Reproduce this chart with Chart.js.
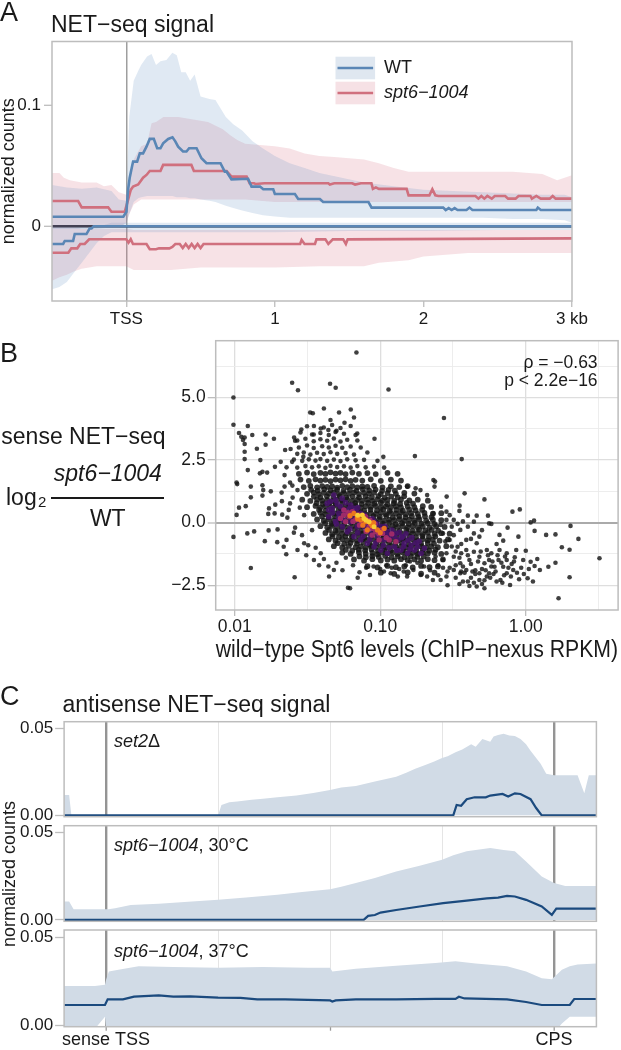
<!DOCTYPE html>
<html>
<head>
<meta charset="utf-8">
<script src="https://cdn.jsdelivr.net/npm/chart.js@4.4.1/dist/chart.umd.min.js"></script>
<style>
  body { margin: 0; width: 621px; height: 1050px; position: relative; background: #fff; overflow: hidden;
         font-family: "Liberation Sans", Arial, Helvetica, sans-serif; color: #1a1a1a; }
  canvas { position: absolute; left: 0; }
  .t { position: absolute; line-height: 1; white-space: nowrap; }
</style>
</head>
<body>
<canvas id="chartA" width="621" height="335" style="top:0"></canvas>
<canvas id="chartB" width="621" height="340" style="top:330px"></canvas>
<canvas id="chartC1" width="621" height="113" style="top:708px"></canvas>
<canvas id="chartC2" width="621" height="105" style="top:821px"></canvas>
<canvas id="chartC3" width="621" height="124" style="top:926px"></canvas>

<div class="t" style="left:0;top:-1.5px;font-size:27px">A</div>
<div class="t" style="left:51px;top:12.7px;font-size:23px">NET−seq signal</div>
<div class="t" style="left:0;top:339.8px;font-size:27px">B</div>
<div class="t" style="left:1.3px;top:425.3px;font-size:23px">sense NET−seq</div>
<div class="t" style="left:6px;top:485.5px;font-size:23px">log</div>
<div class="t" style="left:38px;top:494px;font-size:15px">2</div>
<div class="t" style="left:51.4px;width:112.8px;text-align:center;top:462.2px;font-size:23px;font-style:italic">spt6−1004</div>
<div style="position:absolute;left:51.4px;top:497px;width:112.8px;height:1.5px;background:#1a1a1a"></div>
<div class="t" style="left:51.4px;width:112.8px;text-align:center;top:507px;font-size:23px">WT</div>
<div class="t" style="left:0;top:682.5px;font-size:27px">C</div>
<div class="t" style="left:62.5px;top:692.7px;font-size:23px">antisense NET−seq signal</div>
<div class="t" style="left:114px;top:732px;font-size:18px"><i>set2</i>Δ</div>
<div class="t" style="left:114px;top:836.3px;font-size:18px"><i>spt6−1004</i>, 30°C</div>
<div class="t" style="left:114px;top:941.7px;font-size:18px"><i>spt6−1004</i>, 37°C</div>
<div class="t" style="left:9px;top:874px;font-size:18px;transform:translate(-50%,-50%) rotate(-90deg)">normalized counts</div>

<script>
// ---------- panel A: sense / antisense NET-seq metagene ----------
const aXTicks = [0, 1, 2, 3];
const aXLabels = ['TSS', '1', '2', '3 kb'];
const aYTicks = [0, 0.1];
const aYLabels = ['0', '0.1'];
const aLegendLabels = ['WT', 'spt6−1004'];

const wtSenseLine = [[-0.5,0.0079],[-0.02,0.0079],[0.001,0.012],[0.012,0.030],[0.023,0.040],[0.04,0.050],[0.046,0.0533],[0.073,0.0533],
  [0.091,0.0601],[0.113,0.0601],[0.136,0.0656],[0.158,0.0720],[0.185,0.0720],[0.208,0.0643],[0.23,0.0643],[0.248,0.0684],[0.282,0.0720],
  [0.311,0.0733],[0.33,0.070],[0.349,0.0656],[0.382,0.0616],[0.405,0.0616],[0.423,0.0643],[0.473,0.0643],[0.506,0.0561],[0.54,0.0520],
  [0.634,0.0520],[0.663,0.045],[0.675,0.045],[0.708,0.0387],[0.82,0.0392],[0.843,0.0327],[0.90,0.0327],[0.922,0.0305],[0.989,0.0305],
  [1.0,0.0266],[1.135,0.0266],[1.157,0.0225],[1.303,0.0225],[1.325,0.0200],[1.63,0.0200],[1.651,0.0154],[2.133,0.0154],[2.15,0.0134],
  [2.17,0.0150],[2.19,0.0134],[2.21,0.0150],[2.23,0.0134],[2.29,0.0134],[2.31,0.0154],[2.33,0.0134],[2.76,0.0134],[2.77,0.0154],
  [2.79,0.0134],[3.0,0.0134]];
const spt6SenseLine = [[-0.5,0.0208],[-0.324,0.0208],[-0.30,0.0156],[-0.122,0.0156],[-0.10,0.0120],[-0.01,0.0120],[0.012,0.0217],
  [0.03,0.030],[0.046,0.0327],[0.08,0.0344],[0.113,0.040],[0.136,0.0423],[0.158,0.0456],[0.23,0.0456],[0.248,0.0506],[0.438,0.0506],
  [0.455,0.0456],[0.675,0.0456],[0.708,0.0409],[0.81,0.0409],[0.83,0.0354],[0.86,0.0354],[0.87,0.0349],[0.93,0.0354],[1.36,0.0354],
  [1.37,0.0344],[1.40,0.0354],[1.52,0.0354],[1.54,0.0344],[1.58,0.0354],[1.65,0.0354],[1.66,0.0308],[1.68,0.0320],[1.70,0.0308],
  [1.887,0.0308],[1.90,0.0255],[2.04,0.0255],[2.06,0.0305],[2.08,0.0255],[2.10,0.0250],[2.35,0.0250],[2.37,0.0228],[2.39,0.0250],
  [2.41,0.0228],[2.43,0.0250],[2.46,0.0228],[2.48,0.0250],[2.55,0.0250],[2.57,0.0228],[2.62,0.0228],[2.64,0.0250],[2.72,0.0250],
  [2.73,0.0228],[2.76,0.0250],[2.79,0.0228],[2.85,0.0228],[2.87,0.0250],[2.89,0.0228],[3.0,0.0228]];
const wtAntiLine = [[-0.5,-0.0146],[-0.425,-0.0146],[-0.414,-0.0121],[-0.358,-0.0121],[-0.347,-0.0064],[-0.268,-0.0064],
  [-0.246,-0.0017],[-0.234,-0.0017],[-0.22,0],[3.0,0]];
const spt6AntiLine = [[-0.5,-0.0218],[-0.39,-0.0218],[-0.37,-0.0182],[-0.33,-0.0182],[-0.31,-0.0146],[-0.28,-0.0146],[-0.25,-0.0107],
  [0.0,-0.0107],[0.015,-0.0135],[0.03,-0.0107],[0.045,-0.0146],[0.136,-0.0146],[0.158,-0.0189],[0.20,-0.0189],[0.22,-0.0182],
  [0.29,-0.0182],[0.31,-0.0170],[0.33,-0.0146],[0.36,-0.0146],[0.38,-0.0180],[0.40,-0.0146],[0.42,-0.0180],[0.44,-0.0146],
  [0.46,-0.0180],[0.48,-0.0146],[0.50,-0.0180],[0.52,-0.0146],[1.17,-0.0146],[1.18,-0.0113],[1.20,-0.0146],[1.27,-0.0146],
  [1.28,-0.0108],[1.34,-0.0108],[1.36,-0.0146],[1.39,-0.0108],[1.46,-0.0108],[1.478,-0.0146],[1.49,-0.0108],[3.0,-0.0100]];

const wtSenseX = [-0.5,-0.45,-0.4,-0.3,-0.2,-0.1,-0.05,0,0.02,0.05,0.08,0.1,0.14,0.17,0.2,0.23,0.27,0.31,0.34,0.37,0.4,0.43,0.46,
  0.5,0.56,0.6,0.67,0.72,0.78,0.85,0.92,1.0,1.1,1.2,1.3,1.45,1.6,1.8,2.0,2.2,2.4,2.6,2.8,2.95,3.0];
const wtSenseHi = [0.034,0.033,0.032,0.031,0.032,0.029,0.022,0.021,0.090,0.120,0.128,0.133,0.140,0.142,0.133,0.136,0.137,0.143,
  0.141,0.127,0.127,0.120,0.125,0.107,0.105,0.104,0.090,0.084,0.079,0.070,0.064,0.058,0.052,0.048,0.044,0.040,0.036,0.033,0.030,
  0.029,0.028,0.027,0.026,0.026,0.024];
const wtSenseLo = [-0.002,-0.002,-0.002,-0.002,-0.002,-0.001,0.0,0.002,0.010,0.020,0.023,0.024,0.025,0.025,0.025,0.025,0.025,0.025,
  0.024,0.024,0.024,0.023,0.023,0.022,0.021,0.020,0.017,0.015,0.013,0.011,0.009,0.008,0.007,0.007,0.007,0.007,0.007,0.007,0.007,
  0.007,0.007,0.006,0.006,0.005,0.003];
const spt6SenseX = [-0.5,-0.45,-0.42,-0.38,-0.3,-0.2,-0.15,-0.1,-0.05,0,0.02,0.05,0.1,0.14,0.17,0.2,0.25,0.35,0.45,0.55,0.65,0.7,
  0.75,0.8,0.9,1.0,1.1,1.2,1.3,1.4,1.5,1.6,1.7,1.8,1.9,2.0,2.2,2.4,2.6,2.8,2.9,3.0];
const spt6SenseHi = [0.044,0.044,0.040,0.038,0.036,0.036,0.033,0.034,0.028,0.026,0.040,0.055,0.066,0.068,0.085,0.086,0.090,0.090,
  0.088,0.086,0.080,0.075,0.071,0.068,0.067,0.066,0.064,0.060,0.058,0.057,0.056,0.055,0.052,0.048,0.045,0.045,0.045,0.045,0.045,
  0.043,0.038,0.042];
const spt6SenseLo = [-0.001,-0.001,-0.001,-0.001,-0.001,-0.001,-0.001,-0.001,-0.001,0.003,0.010,0.018,0.022,0.022,0.022,0.022,
  0.022,0.022,0.022,0.022,0.022,0.022,0.022,0.022,0.021,0.020,0.020,0.020,0.020,0.020,0.020,0.020,0.020,0.020,0.020,0.020,0.020,
  0.020,0.020,0.020,0.020,0.020];
const wtAntiX = [-0.5,-0.45,-0.4,-0.35,-0.3,-0.25,-0.2,-0.15,-0.1,0,0.5,1.0,1.5,2.0,2.5,3.0];
const wtAntiHi = [0.001,0.001,0.001,0.001,0.001,0.001,0.001,0.001,0.003,0.003,0.003,0.003,0.003,0.003,0.003,0.003];
const wtAntiLo = [-0.052,-0.050,-0.046,-0.038,-0.030,-0.022,-0.014,-0.008,-0.005,-0.005,-0.005,-0.005,-0.004,-0.004,-0.003,-0.003];
const spt6AntiX = [-0.5,-0.45,-0.4,-0.35,-0.3,-0.2,-0.1,0,0.05,0.1,0.3,0.5,0.8,1.0,1.3,1.6,1.7,1.9,2.0,2.3,2.6,3.0];
const spt6AntiHi = [-0.001,-0.001,-0.001,-0.001,-0.002,-0.002,-0.002,-0.002,-0.003,-0.003,-0.003,-0.003,-0.003,-0.003,-0.003,
  -0.003,-0.003,-0.003,-0.003,-0.003,-0.003,-0.003];
const spt6AntiLo = [-0.045,-0.042,-0.040,-0.037,-0.035,-0.033,-0.033,-0.033,-0.036,-0.036,-0.036,-0.034,-0.034,-0.034,-0.033,
  -0.033,-0.030,-0.028,-0.025,-0.022,-0.022,-0.022];

// ---------- panel B: scatter ----------
const bXTicks = [0.01, 0.0316, 0.1, 0.316, 1, 3.16];
const bXLabels = ['0.01', '', '0.10', '', '1.00', ''];
const bYTicks = [-2.5, -1.25, 0, 1.25, 2.5, 3.75, 5, 6.25];
const bYLabels = ['−2.5', '', '0.0', '', '2.5', '', '5.0', ''];
const bStats = ['ρ = −0.63', 'p < 2.2e−16'];

const bSparse = [
  [0.0686,6.80],[0.0248,5.59],[0.0272,5.29],[0.0452,5.55],[0.0494,5.39],[0.114,5.32],[0.0098,5.00],[0.0098,3.91],[0.274,4.18],
  [0.0123,3.86],[0.0107,3.58],[0.0111,3.43],[0.0117,3.40],[0.0114,3.30],[0.0132,3.50],[0.0117,3.14],[0.0117,2.83],[0.0117,2.54],
  [0.0163,3.52],[0.0186,3.35],[0.0142,2.95],[0.0163,3.11],[0.0150,2.50],[0.0123,2.10],[0.0103,1.60],[0.0104,1.54],[0.0129,1.44],
  [0.0129,1.01],[0.0119,0.66],[0.0107,0.60],[0.0103,0.31],[0.0098,-0.57],[0.0122,-0.43],[0.0136,-0.35],[0.0129,-1.81],[0.0171,-0.31],
  [0.0161,-0.74],[0.0196,-0.78],[0.0217,-0.96],[0.0226,-1.26],[0.0258,-2.18],[0.0197,-0.27],[0.0149,1.97],[0.0155,2.03],[0.0167,2.00],
  [0.0155,1.49],[0.0155,1.08],[0.0157,1.30],[0.0177,1.25],[0.0172,0.57],[0.0170,0.35],[0.0188,0.37],[0.0211,0.86],[0.0212,0.32],
  [0.0190,0.72],[0.0207,2.43],[0.0189,2.23],[0.0227,2.21],[0.0248,2.43],[0.0242,2.94],[0.0222,2.90],[0.0256,3.40],[0.0287,3.72],
  [0.0249,1.48],[0.0220,1.44],[0.0240,0.77],[0.0235,0.51],
  [0.0330,4.40],[0.0344,4.37],[0.0410,4.56],[0.0627,4.52],[0.0521,4.40],[0.0455,4.10],[0.0568,3.99],[0.0660,4.20],[0.0695,3.56],
  [0.0913,3.35],[0.105,2.63],[0.173,2.66],[0.363,2.54],[0.0350,3.86],[0.0390,3.76],[0.0440,3.70],[0.0500,3.67],[0.0340,3.52],
  [0.0296,2.63],[0.0260,3.27],[0.153,1.44],[0.175,1.37],[0.189,1.30],[0.232,1.70],[0.236,1.44],[0.238,1.64],[0.38,1.17],[0.21,1.10],
  [0.286,1.04],[0.262,0.64],
  [0.232,0.37],[0.285,0.44],[0.351,0.68],[0.350,0.47],[0.40,0.28],[0.46,0.28],[0.52,0.93],[0.55,0.28],[0.58,-0.05],[0.81,0.44],
  [0.91,0.53],[1.08,0.01],[1.14,0.08],[1.15,-0.33],[1.38,-0.49],[1.60,-0.47],[2.03,-0.13],[2.30,-0.65],[3.21,-1.42],[1.77,-0.98],
  [2.00,-1.08],[2.00,-2.18],[1.68,-3.02],[1.60,-1.60],[1.43,-1.76],[1.25,-1.89],[1.15,-1.73],[1.03,-2.22],[0.90,-2.26],[0.82,-1.89],
  [0.74,-1.22],[0.70,-0.72],[0.75,-0.20],[0.89,-0.56],[1.00,-1.12],[0.86,-1.09],[0.66,-0.49],[0.63,-0.85],[0.56,-0.03],[0.48,-0.56],
  [0.44,-0.43],[0.39,-0.69],[0.84,-1.38],[0.65,-1.49],[0.78,-2.49],[0.67,-2.29],[0.56,-2.02],[0.48,-2.02],[0.52,-2.62],[0.46,-2.55],
  [0.41,-2.53],[0.37,-2.35],[0.355,-2.02],[0.32,-1.89],[0.285,-2.15],[0.26,-2.29],[0.23,-2.29],[0.21,-2.15],[0.19,-2.09],[0.169,-1.89],
  [0.153,-2.15],[0.145,-1.95],[0.132,-2.15],[0.118,-2.02],[0.106,-1.95],[0.085,-2.09],[0.072,-1.98],[0.062,-2.62],[0.060,-2.60],
  [0.0445,-2.15],[0.048,-1.89],[0.035,-1.49],[0.039,-1.22],[0.027,-1.09],[0.030,-0.82],[0.0255,-0.40],[0.0227,-0.69],
  [0.44,-1.16],[0.41,-1.49],[0.48,-1.36],[0.52,-1.62],[0.56,-1.49],[0.61,-1.76],[0.70,-1.76],[0.74,-2.02],[0.54,-2.15],[0.48,-2.29],
  [0.39,-1.89],[0.355,-1.62],[0.32,-1.36],[0.285,-1.22],[0.27,-1.49],[0.30,-0.69],[0.34,-0.96],[0.36,-1.22],[0.39,-1.09],[0.46,-0.82],
  [0.54,-1.09],[0.58,-1.22],[0.66,-1.09],[0.74,-1.49],[0.80,-1.65],[0.96,-1.49],[1.08,-1.56],[0.27,-0.43],[0.31,-0.16],[0.355,-0.29],
  [0.40,-0.16],[0.44,0.04],[0.285,0.11],[0.26,-0.09],[0.32,0.11],
  [0.25,-1.70],[0.22,-1.90],[0.20,-1.75],[0.18,-1.60],[0.30,-1.80],[0.33,-2.20],[0.38,-2.00],[0.42,-2.20],[0.45,-1.90],[0.50,-1.85],
  [0.60,-2.05],[0.63,-2.35],[0.71,-2.10],[0.58,-1.75],[0.52,-2.30],[0.44,-2.40],[0.35,-2.45],[0.29,-2.50],
  [0.31,-0.95],[0.33,-1.15],[0.35,-1.40],[0.37,-1.75],[0.40,-1.30],[0.42,-1.65],[0.43,-1.95],[0.47,-1.55],[0.49,-1.15],[0.50,-2.45],
  [0.53,-1.90],[0.55,-1.30],[0.57,-2.20],[0.59,-1.55],[0.62,-1.95],[0.64,-1.30],[0.68,-1.60],[0.69,-2.40],[0.72,-1.35],[0.76,-1.80],
  [0.79,-2.15],[0.83,-1.55],[0.87,-2.00],[0.93,-1.80],[0.97,-2.05],[1.05,-1.85],[1.12,-2.35],[1.20,-1.45],[0.45,-2.05],[0.40,-2.35],
  [0.36,-1.95],[0.33,-1.70],[0.29,-1.95],[0.27,-1.80],[0.25,-2.10],[0.24,-1.35],[0.28,-0.75],[0.32,-0.50],[0.36,-0.85],[0.42,-0.65],
  [0.50,-0.30],[0.37,0.05],[0.30,0.30],[0.34,-0.05],
  [0.022,1.90],[0.024,1.60],[0.021,1.20],[0.025,1.00],[0.023,0.20],[0.026,-0.20],[0.028,0.60],[0.030,0.30],[0.027,1.30],[0.029,-0.50],
  [0.032,-0.90],[0.034,-0.30],[0.031,-1.30],[0.036,-1.00],[0.038,-1.70],[0.041,-1.45],[0.044,-1.75],[0.050,-1.60],[0.055,-1.90],
  [0.058,-1.40],[0.065,-1.70],[0.070,-2.20],[0.080,-1.80],[0.090,-1.75],[0.100,-1.85],[0.110,-1.70],[0.120,-1.80],[0.135,-1.85],
  [0.150,-1.70],[0.160,-1.55],
  [0.0314,3.85],[0.0409,3.80],[0.0467,3.90],[0.0533,3.78],[0.0626,3.86],
  [0.0283,3.60],[0.0349,3.52],[0.0388,3.58],[0.0443,3.50],[0.0493,3.62],[0.0563,3.55],[0.0677,3.50],
  [0.0269,3.28],[0.0306,3.35],[0.0349,3.25],[0.0388,3.33],[0.0432,3.27],[0.0480,3.36],[0.0533,3.24],[0.0593,3.31],[0.0696,3.28],
  [0.0276,3.00],[0.0314,3.08],[0.0349,2.98],[0.0399,3.05],[0.0443,3.00],[0.0493,3.07],[0.0548,2.99],[0.0626,3.04],[0.0734,3.00],
  [0.0269,2.75],[0.0298,2.80],[0.0331,2.72],[0.0368,2.79],[0.0409,2.74],[0.0455,2.81],[0.0506,2.75],[0.0578,2.78],[0.0660,2.72],[0.0816,2.80],
  [0.0255,2.52],[0.0291,2.47],[0.0323,2.53],[0.0359,2.48],[0.0388,2.54],[0.0432,2.47],[0.0480,2.52],[0.0533,2.46],[0.0593,2.53],
  [0.0677,2.49],[0.0774,2.51],[0.0957,2.47],
  [0.0269,2.20],[0.0306,2.26],[0.0340,2.21],[0.0378,2.25],[0.0420,2.19],[0.0455,2.27],[0.0506,2.22],[0.0563,2.25],[0.0626,2.20],
  [0.0696,2.26],[0.0794,2.21],[0.0907,2.24],[0.1064,2.20]];

// dense band around the regression trend
const bCore = [
  [0.0276,1.95],[0.0314,2.00],[0.0349,1.94],[0.0388,1.99],[0.0420,1.95],[0.0455,2.01],[0.0493,1.96],[0.0533,1.99],[0.0578,1.94],
  [0.0643,2.00],[0.0714,1.95],[0.0816,1.98],[0.0931,1.94],[0.1122,1.99],[0.1316,1.95],
  [0.0283,1.72],[0.0323,1.67],[0.0359,1.73],[0.0388,1.68],[0.0420,1.71],[0.0455,1.66],[0.0493,1.72],[0.0533,1.69],[0.0578,1.73],
  [0.0626,1.67],[0.0677,1.71],[0.0753,1.68],[0.0860,1.73],[0.1009,1.67],[0.1183,1.72],[0.1388,1.68],
  [0.0298,1.42],[0.0331,1.47],[0.0368,1.41],[0.0399,1.46],[0.0432,1.43],[0.0467,1.45],[0.0506,1.40],[0.0548,1.47],[0.0593,1.42],
  [0.0643,1.46],[0.0696,1.41],[0.0753,1.45],[0.0816,1.43],[0.0907,1.47],[0.1036,1.41],[0.1183,1.45],[0.1351,1.42],[0.1543,1.46],
  [0.0335,1.31],[0.0372,1.28],[0.0412,1.33],[0.0456,1.29],[0.0505,1.32],[0.0559,1.27],[0.0619,1.31],[0.0685,1.28],[0.0758,1.33],
  [0.0839,1.29],[0.0929,1.32],[0.103,1.27],[0.114,1.31],[0.126,1.28],
  [0.0314,1.15],[0.0349,1.20],[0.0378,1.14],[0.0409,1.19],[0.0443,1.16],[0.0480,1.21],[0.0519,1.14],[0.0563,1.18],[0.0609,1.15],
  [0.0660,1.20],[0.0714,1.14],[0.0774,1.19],[0.0838,1.16],[0.0907,1.20],[0.1009,1.14],[0.1122,1.18],[0.1281,1.15],[0.1463,1.19],[0.1716,1.16],
  [0.0350,1.04],[0.0388,1.01],[0.0430,1.05],[0.0476,1.02],[0.0527,1.06],[0.0583,1.00],[0.0646,1.04],[0.0715,1.01],[0.0792,1.05],
  [0.0877,1.02],[0.0971,1.06],[0.1075,1.00],[0.119,1.04],[0.132,1.01],[0.146,1.05],
  [0.0291,0.92],[0.0331,0.87],[0.0368,0.93],[0.0399,0.88],[0.0432,0.91],[0.0467,0.86],[0.0506,0.92],[0.0548,0.89],[0.0593,0.93],
  [0.0643,0.87],[0.0696,0.91],[0.0753,0.88],[0.0816,0.92],[0.0883,0.87],[0.0957,0.93],[0.1036,0.88],[0.1122,0.91],[0.1248,0.87],
  [0.1388,0.92],[0.1585,0.89],[0.1810,0.92],[0.2123,0.88],
  [0.0365,0.78],[0.0404,0.75],[0.0447,0.79],[0.0495,0.76],[0.0548,0.80],[0.0607,0.74],[0.0672,0.78],[0.0744,0.75],[0.0824,0.79],
  [0.0912,0.76],[0.101,0.80],[0.112,0.74],[0.124,0.78],[0.137,0.75],[0.152,0.79],[0.168,0.76],
  [0.0314,0.62],[0.0359,0.67],[0.0388,0.61],[0.0420,0.66],[0.0455,0.63],[0.0493,0.68],[0.0533,0.61],[0.0578,0.65],[0.0626,0.62],
  [0.0677,0.67],[0.0734,0.60],[0.0794,0.66],[0.0860,0.63],[0.0931,0.67],[0.1009,0.61],[0.1092,0.65],[0.1183,0.62],[0.1281,0.66],
  [0.1388,0.61],[0.1543,0.65],[0.1716,0.62],[0.1960,0.66],[0.2239,0.63],
  [0.0380,0.51],[0.0421,0.48],[0.0466,0.52],[0.0516,0.49],[0.0571,0.53],[0.0632,0.47],[0.0700,0.51],[0.0775,0.48],[0.0858,0.52],
  [0.0950,0.49],[0.105,0.53],[0.116,0.47],[0.129,0.51],[0.143,0.48],[0.158,0.52],[0.175,0.49],[0.194,0.51],
  [0.0349,0.35],[0.0388,0.40],[0.0420,0.34],[0.0455,0.39],[0.0493,0.36],[0.0533,0.40],[0.0578,0.33],[0.0626,0.38],[0.0677,0.35],
  [0.0734,0.40],[0.0794,0.34],[0.0860,0.38],[0.0931,0.35],[0.1009,0.40],[0.1092,0.34],[0.1183,0.39],[0.1281,0.36],[0.1388,0.40],
  [0.1503,0.34],[0.1628,0.38],[0.1810,0.35],[0.2013,0.39],[0.2299,0.36],[0.2626,0.38],
  [0.0398,0.25],[0.0441,0.22],[0.0488,0.26],[0.0540,0.23],[0.0598,0.27],[0.0662,0.21],[0.0733,0.25],[0.0811,0.22],[0.0898,0.26],
  [0.0994,0.23],[0.110,0.27],[0.122,0.21],[0.135,0.25],[0.149,0.22],[0.165,0.26],[0.183,0.23],[0.203,0.25],[0.225,0.22],
  [0.0368,0.13],[0.0409,0.08],[0.0443,0.14],[0.0480,0.09],[0.0519,0.12],[0.0563,0.07],[0.0609,0.13],[0.0660,0.10],[0.0714,0.14],
  [0.0774,0.08],[0.0838,0.12],[0.0907,0.09],[0.0982,0.14],[0.1064,0.08],[0.1152,0.12],[0.1248,0.10],[0.1351,0.14],[0.1463,0.08],
  [0.1585,0.12],[0.1716,0.09],[0.1859,0.13],[0.2067,0.08],[0.2299,0.12],[0.2626,0.10],
  [0.0418,-0.02],[0.0463,-0.05],[0.0512,-0.01],[0.0567,-0.04],[0.0628,0.00],[0.0695,-0.06],[0.0769,-0.02],[0.0851,-0.05],
  [0.0942,-0.01],[0.104,-0.04],[0.115,0.00],[0.128,-0.06],[0.141,-0.02],[0.157,-0.05],[0.173,-0.01],[0.192,-0.04],[0.212,-0.02],[0.235,-0.05],
  [0.0388,-0.14],[0.0432,-0.19],[0.0467,-0.13],[0.0506,-0.18],[0.0548,-0.15],[0.0593,-0.20],[0.0643,-0.13],[0.0696,-0.17],
  [0.0753,-0.14],[0.0816,-0.19],[0.0883,-0.13],[0.0957,-0.18],[0.1036,-0.15],[0.1122,-0.19],[0.1215,-0.13],[0.1316,-0.17],
  [0.1425,-0.14],[0.1543,-0.19],[0.1671,-0.13],[0.1810,-0.18],[0.1960,-0.15],[0.2180,-0.19],[0.2424,-0.14],[0.2769,-0.17],
  [0.0445,-0.29],[0.0492,-0.32],[0.0545,-0.28],[0.0603,-0.31],[0.0668,-0.27],[0.0739,-0.33],[0.0818,-0.29],[0.0906,-0.32],
  [0.100,-0.28],[0.111,-0.31],[0.123,-0.27],[0.136,-0.33],[0.151,-0.29],[0.167,-0.32],[0.185,-0.28],[0.204,-0.31],[0.226,-0.29],[0.250,-0.32],
  [0.0420,-0.41],[0.0467,-0.46],[0.0506,-0.40],[0.0548,-0.45],[0.0593,-0.42],[0.0643,-0.47],[0.0696,-0.40],[0.0753,-0.44],
  [0.0816,-0.41],[0.0883,-0.46],[0.0957,-0.40],[0.1036,-0.45],[0.1122,-0.42],[0.1215,-0.46],[0.1316,-0.41],[0.1425,-0.45],
  [0.1543,-0.40],[0.1671,-0.44],[0.1810,-0.41],[0.1960,-0.46],[0.2123,-0.40],[0.2361,-0.45],[0.2626,-0.42],[0.2998,-0.44],
  [0.0470,-0.55],[0.0520,-0.58],[0.0576,-0.54],[0.0638,-0.57],[0.0706,-0.53],[0.0782,-0.59],[0.0866,-0.55],[0.0958,-0.58],
  [0.106,-0.54],[0.117,-0.57],[0.130,-0.53],[0.144,-0.59],[0.159,-0.55],[0.176,-0.58],[0.195,-0.54],[0.216,-0.57],[0.239,-0.55],
  [0.0443,-0.67],[0.0493,-0.72],[0.0548,-0.66],[0.0593,-0.71],[0.0643,-0.68],[0.0696,-0.73],[0.0753,-0.66],[0.0816,-0.70],
  [0.0883,-0.67],[0.0957,-0.72],[0.1036,-0.66],[0.1122,-0.71],[0.1215,-0.68],[0.1316,-0.72],[0.1425,-0.66],[0.1543,-0.70],
  [0.1671,-0.67],[0.1810,-0.72],[0.1960,-0.66],[0.2123,-0.71],[0.2299,-0.68],[0.2557,-0.72],[0.2920,-0.67],
  [0.0510,-0.82],[0.0565,-0.85],[0.0625,-0.81],[0.0692,-0.84],[0.0766,-0.80],[0.0848,-0.86],[0.0939,-0.82],[0.104,-0.85],
  [0.115,-0.81],[0.127,-0.84],[0.141,-0.80],[0.156,-0.86],[0.173,-0.82],[0.191,-0.85],[0.212,-0.81],[0.234,-0.84],
  [0.0480,-0.94],[0.0548,-0.99],[0.0609,-0.93],[0.0677,-0.98],[0.0734,-0.95],[0.0794,-1.00],[0.0860,-0.93],[0.0931,-0.97],
  [0.1009,-0.94],[0.1092,-0.99],[0.1183,-0.93],[0.1281,-0.98],[0.1388,-0.95],[0.1503,-0.99],[0.1628,-0.93],[0.1763,-0.97],
  [0.1909,-0.94],[0.2067,-0.99],[0.2239,-0.95],[0.2490,-0.98],[0.2843,-0.94],
  [0.0580,-1.09],[0.0642,-1.12],[0.0711,-1.08],[0.0787,-1.11],[0.0871,-1.07],[0.0964,-1.13],[0.107,-1.09],[0.118,-1.12],
  [0.131,-1.08],[0.145,-1.11],[0.160,-1.07],[0.177,-1.13],[0.196,-1.09],[0.217,-1.12],[0.240,-1.08],
  [0.0548,-1.20],[0.0626,-1.25],[0.0714,-1.19],[0.0794,-1.24],[0.0883,-1.21],[0.0957,-1.26],[0.1036,-1.19],[0.1122,-1.23],
  [0.1215,-1.20],[0.1316,-1.25],[0.1425,-1.19],[0.1543,-1.24],[0.1671,-1.21],[0.1810,-1.25],[0.1960,-1.19],[0.2123,-1.23],
  [0.2361,-1.20],[0.2626,-1.25],
  [0.0720,-1.35],[0.0797,-1.38],[0.0882,-1.34],[0.0976,-1.37],[0.108,-1.33],[0.120,-1.39],[0.132,-1.35],[0.147,-1.38],
  [0.162,-1.34],[0.180,-1.37],[0.199,-1.35],
  [0.0660,-1.47],[0.0774,-1.52],[0.0883,-1.46],[0.1009,-1.51],[0.1122,-1.48],[0.1248,-1.52],[0.1388,-1.46],[0.1543,-1.50],
  [0.1716,-1.47],[0.1909,-1.52],[0.2123,-1.46],[0.2361,-1.50],[0.2696,-1.47],
  [0.0816,-1.74],[0.0957,-1.79],[0.1122,-1.73],[0.1281,-1.78],[0.1463,-1.75],[0.1671,-1.79],[0.1909,-1.73],[0.2180,-1.78],[0.2490,-1.75],
  [0.1009,-2.00],[0.1248,-2.05],[0.1543,-1.99],[0.1909,-2.04],[0.2361,-2.00]];

const bPurple = [[0.0432,0.77],[0.0467,0.57],[0.0493,0.90],[0.0533,0.64],[0.0578,0.37],[0.0626,0.70],[0.0443,0.24],[0.0493,0.04],
  [0.0548,-0.16],[0.0593,-0.36],[0.0660,-0.56],[0.0734,-0.69],[0.0816,-0.82],[0.0907,-0.96],[0.101,-1.09],[0.112,-1.22],[0.125,-0.96],
  [0.139,-1.09],[0.154,-1.22],[0.172,-1.09],[0.191,-1.22],[0.132,-0.69],[0.146,-0.82],[0.163,-0.89],[0.118,-0.56],[0.106,-0.69],
  [0.0774,-0.16],[0.0860,-0.43],[0.0957,-0.56],[0.0696,-0.16],[0.0626,0.04],[0.0519,0.37],[0.0660,0.57],[0.0734,0.37],[0.0816,0.11],
  [0.0907,0.04],[0.101,-0.16],[0.112,-0.36],[0.128,-0.43],[0.1425,-0.56],[0.181,-0.96],[0.201,-1.02],[0.0443,0.51],[0.0480,1.10],[0.0548,0.97],
  [0.0455,0.85],[0.0506,0.75],[0.0578,0.80],[0.0470,0.40],[0.0520,0.20],[0.0560,0.50],[0.0610,0.55],[0.0680,0.45],[0.0500,-0.05],
  [0.0560,0.10],[0.0620,-0.25],[0.0700,-0.40],[0.0760,-0.55],[0.0850,-0.65],[0.0930,-0.80],[0.1050,-0.90],[0.1150,-1.00],[0.1300,-1.10],
  [0.1450,-0.95],[0.1600,-1.05],[0.1750,-0.80],[0.1550,-0.70],[0.1400,-0.60],[0.1250,-0.55],[0.1100,-0.45],[0.1000,-0.30],[0.0900,-0.20],
  [0.0800,-0.05],[0.0720,0.05],[0.0650,0.20],[0.1200,-0.30],[0.1350,-0.40],[0.1500,-0.45],[0.1650,-0.60],[0.1850,-0.75],[0.0880,0.15],
  [0.0780,0.30],[0.0700,0.60],[0.0950,-0.05],[0.1080,-0.15]];
const bMagenta = [[0.0563,0.51],[0.0609,0.24],[0.0677,0.11],[0.0753,-0.03],[0.0838,-0.16],[0.0931,-0.36],[0.1036,-0.43],[0.1152,-0.69],
  [0.1281,-0.76],[0.0643,0.44],[0.0714,0.31],[0.0794,0.24],[0.0883,-0.23],[0.0982,-0.69],[0.0578,0.04],[0.0533,0.17],
  [0.0600,0.40],[0.0650,0.05],[0.0720,-0.10],[0.0800,-0.35],[0.0880,-0.50],[0.0980,-0.45],[0.1100,-0.60],[0.1200,-0.45],[0.0850,0.10],
  [0.0920,-0.05],[0.1030,-0.28],[0.0560,0.30]];
const bOrange = [[0.0660,0.37],[0.0734,0.11],[0.0794,0.04],[0.0860,-0.03],[0.0957,-0.29],[0.1064,-0.23],[0.0696,0.24],[0.0816,-0.29],
  [0.0620,0.28],[0.0700,0.15],[0.0760,-0.10],[0.0880,-0.12],[0.1000,-0.40],[0.0900,0.00]];
const bYellow = [[0.0774,0.17],[0.0838,0.04],[0.0753,0.31],[0.0907,-0.16],[0.0700,0.30],[0.0800,0.10]];

// ---------- panel C: antisense metagenes (TSS = 0, CPS = 4) ----------
const cXTicks = [0, 1, 2, 3, 4];
const cXLabels = ['sense TSS', '', '', '', 'CPS'];
const cYTicks = [0, 0.05];
const cYLabels = ['0.00', '0.05'];

const set2X = [-0.375,-0.33,-0.31,1.0,1.03,1.1,1.17,1.3,1.4,1.53,1.7,1.85,2.0,2.1,2.23,2.4,2.5,2.59,2.68,2.76,2.85,2.93,3.0,3.05,
  3.12,3.18,3.26,3.3,3.36,3.43,3.46,3.5,3.55,3.6,3.65,3.7,3.75,3.79,3.88,3.93,4.0,4.21,4.27,4.31,4.378];
const set2Hi = [0.0117,0.0117,0,0,0.006,0.0075,0.008,0.009,0.0095,0.0104,0.0115,0.0128,0.0146,0.016,0.0169,0.0195,0.021,0.0222,
  0.0245,0.0269,0.029,0.031,0.0331,0.034,0.0364,0.038,0.041,0.0395,0.044,0.0425,0.0455,0.0464,0.047,0.046,0.0458,0.044,0.041,
  0.0373,0.0297,0.024,0.0231,0.0231,0.0127,0.0231,0.0231];
const set2Line = [[-0.375,0],[3.1,0],[3.13,0.006],[3.17,0.0055],[3.22,0.0093],[3.29,0.0104],[3.39,0.0104],[3.43,0.0114],[3.54,0.0123],
  [3.59,0.0108],[3.65,0.0127],[3.7,0.0123],[3.79,0.0093],[3.84,0.0042],[3.89,0],[4.378,0]];

const t30X = [-0.375,-0.33,-0.29,0.02,0.08,0.22,0.47,0.7,1.0,1.25,1.53,1.75,2.0,2.1,2.23,2.4,2.59,2.8,3.0,3.1,3.22,3.3,3.43,3.55,
  3.65,3.75,3.89,4.0,4.1,4.378];
const t30Hi = [0.0105,0.0105,0.0061,0.0061,0.0067,0.0086,0.0092,0.0102,0.0115,0.0128,0.0144,0.016,0.0176,0.019,0.0211,0.024,0.0278,
  0.031,0.0345,0.037,0.0393,0.040,0.0412,0.040,0.0393,0.0335,0.0249,0.0211,0.0195,0.0195];
const t30Line = [[-0.375,0],[2.3,0],[2.34,0.0023],[2.4,0.0028],[2.45,0.0042],[2.59,0.0057],[2.8,0.0077],[3.01,0.0096],[3.22,0.0111],
  [3.4,0.0123],[3.5,0.0128],[3.58,0.0138],[3.65,0.0134],[3.75,0.0115],[3.89,0.0077],[3.98,0.0029],[4.02,0.0065],[4.378,0.0065]];

const t37X = [-0.375,-0.1,-0.01,0.0,0.025,0.11,0.29,0.6,1.0,1.4,1.8,2.0,2.02,2.23,2.59,2.94,3.12,3.3,3.58,3.75,3.89,3.98,4.03,4.07,
  4.14,4.21,4.378];
const t37Hi = [0.0223,0.0223,0.0230,0.0258,0.0305,0.0315,0.0334,0.0330,0.0326,0.0330,0.0326,0.0326,0.0305,0.0320,0.0338,0.0353,
  0.0363,0.0350,0.0334,0.0305,0.0267,0.0261,0.0290,0.0315,0.0335,0.0344,0.0350];
const t37Lo = [-0.002,-0.002,0.0048,-0.002,-0.002,-0.002,-0.002,-0.002,-0.002,-0.002,-0.002,-0.002,-0.002,-0.002,-0.002,-0.002,
  -0.002,-0.002,-0.002,-0.002,-0.002,-0.002,-0.002,0.001,0.0048,0.0048,0.0048];
const t37Line = [[-0.375,0.0115],[-0.01,0.0115],[0.014,0.0147],[0.15,0.0147],[0.25,0.0162],[0.47,0.017],[0.6,0.0162],[0.75,0.0164],
  [1.0,0.0157],[1.2,0.0155],[1.35,0.0147],[1.6,0.0147],[2.0,0.0141],[2.02,0.0135],[2.05,0.0141],[2.23,0.0147],[2.59,0.0147],
  [2.94,0.0150],[3.12,0.0150],[3.15,0.0162],[3.2,0.0152],[3.58,0.0147],[3.75,0.0132],[3.89,0.0115],[4.14,0.0115],[4.18,0.0149],
  [4.378,0.0149]];

// ---------- helpers ----------
Chart.defaults.font.family = '"Liberation Sans", Arial, Helvetica, sans-serif';
Chart.defaults.color = '#1a1a1a';

const FONT = '"Liberation Sans", Arial, Helvetica, sans-serif';
const wtColor = '#5a86b5', spt6Color = '#d0707e';
const wtBand = 'rgba(100,145,195,0.2)', spt6Band = 'rgba(214,112,132,0.2)';
const cBand = '#d1dbe6', cLine = '#1b4a7e';

const pts = a => a.map(p => ({x: p[0], y: p[1]}));
const band = (xs, ys) => xs.map((x, i) => ({x, y: ys[i]}));
const fixTicks = vals => s => { s.ticks = vals.map(v => ({value: v})); };
const fixSize = (w, h) => s => {
  if (w != null) s.width = w;
  if (h != null) s.height = h;
  s.paddingLeft = s.paddingRight = s.paddingTop = s.paddingBottom = 0;
};
const lineDs = (data, color, width) => ({data, borderColor: color, borderWidth: width, pointRadius: 0, fill: false, order: 1});
const loDs = data => ({data, borderWidth: 0, borderColor: 'rgba(0,0,0,0)', pointRadius: 0, fill: false, order: 2});
const hiDs = (data, color, target) => ({data, borderWidth: 0, borderColor: 'rgba(0,0,0,0)', backgroundColor: color,
  pointRadius: 0, fill: target, order: 2});

const base = {
  responsive: false, animation: false, devicePixelRatio: 1, events: [],
  elements: {line: {tension: 0}, point: {radius: 0, hoverRadius: 0}},
};

const frame = {
  id: 'frame',
  afterDraw(chart, args, opts) {
    const {ctx, chartArea: a} = chart;
    ctx.save();
    ctx.strokeStyle = opts.color || '#bdbdbd';
    ctx.lineWidth = opts.width || 1.5;
    ctx.strokeRect(a.left, a.top, a.right - a.left, a.bottom - a.top);
    ctx.restore();
  }
};

const legendA = {
  id: 'legendA',
  afterDraw(chart) {
    const {ctx, chartArea: a} = chart;
    const boxes = ['#dfe7f0', '#f6e1e5'];
    const lines = [wtColor, spt6Color];
    ctx.save();
    aLegendLabels.forEach((label, i) => {
      const x = a.left + 283.5, y = a.top + 15.2 + i * 25;
      ctx.fillStyle = boxes[i];
      ctx.fillRect(x, y, 39.6, 22.6);
      ctx.strokeStyle = lines[i];
      ctx.lineWidth = 2.5;
      ctx.beginPath(); ctx.moveTo(x + 2, y + 11.3); ctx.lineTo(x + 37.6, y + 11.3); ctx.stroke();
      ctx.fillStyle = '#1a1a1a';
      ctx.font = (i === 1 ? 'italic ' : '') + '18px ' + FONT;
      ctx.textBaseline = 'middle';
      ctx.fillText(label, x + 48.5, y + 11.6);
    });
    ctx.restore();
  }
};

const statsB = {
  id: 'statsB',
  afterDraw(chart) {
    const {ctx, chartArea: a} = chart;
    ctx.save();
    ctx.fillStyle = '#1a1a1a';
    ctx.font = '17.5px ' + FONT;
    ctx.textAlign = 'right';
    ctx.textBaseline = 'alphabetic';
    ctx.fillText(bStats[0], a.right - 20.5, a.top + 26.8);
    ctx.fillText(bStats[1], a.right - 20.5, a.top + 45.3);
    ctx.restore();
  }
};

// ---------- chart A ----------
new Chart(document.getElementById('chartA'), {
  type: 'line',
  data: {datasets: [
    lineDs(pts(wtSenseLine), wtColor, 2.6),
    lineDs(pts(spt6SenseLine), spt6Color, 2.6),
    lineDs(pts(wtAntiLine), wtColor, 2.6),
    lineDs(pts(spt6AntiLine), spt6Color, 2.6),
    loDs(band(wtSenseX, wtSenseLo)), hiDs(band(wtSenseX, wtSenseHi), wtBand, '-1'),
    loDs(band(spt6SenseX, spt6SenseLo)), hiDs(band(spt6SenseX, spt6SenseHi), spt6Band, '-1'),
    loDs(band(wtAntiX, wtAntiLo)), hiDs(band(wtAntiX, wtAntiHi), wtBand, '-1'),
    loDs(band(spt6AntiX, spt6AntiLo)), hiDs(band(spt6AntiX, spt6AntiHi), spt6Band, '-1'),
  ]},
  options: {
    ...base,
    layout: {padding: {left: 0, right: 49, top: 41.5, bottom: 0}},
    plugins: {legend: {display: false}, tooltip: {enabled: false}, frame: {color: '#bdbdbd'}},
    scales: {
      x: {type: 'linear', min: -0.5, max: 3, z: 1, border: {display: false},
        afterBuildTicks: fixTicks(aXTicks), afterFit: fixSize(null, 34),
        grid: {color: c => (c.tick && c.tick.value === 0) ? 'rgba(0,0,0,0.38)' : 'rgba(0,0,0,0)', lineWidth: 1.5,
               tickColor: '#bdbdbd', tickWidth: 1.3, tickLength: 6},
        ticks: {callback: (v, i) => aXLabels[i], font: {size: 17, lineHeight: 1}, padding: 3.5, maxRotation: 0, autoSkip: false}},
      y: {min: -0.0616, max: 0.1523, z: 1, border: {display: false},
        afterBuildTicks: fixTicks(aYTicks), afterFit: fixSize(52, null),
        grid: {color: c => (c.tick && c.tick.value === 0) ? '#000' : 'rgba(0,0,0,0)', lineWidth: 2.6,
               tickColor: '#bdbdbd', tickWidth: 1.3, tickLength: 8},
        ticks: {callback: (v, i) => aYLabels[i], font: {size: 17, lineHeight: 1}, padding: 3, autoSkip: false},
        title: {display: true, text: 'normalized counts', font: {size: 18, lineHeight: 1}, padding: 0}}
    }
  },
  plugins: [frame, legendA]
});

// ---------- chart B ----------
const dots = (arr, color, radius, order) => ({data: pts(arr), backgroundColor: color, borderWidth: 0, pointRadius: radius,
  pointHoverRadius: 0, order});
new Chart(document.getElementById('chartB'), {
  type: 'scatter',
  data: {datasets: [
    dots(bSparse, 'rgba(22,22,22,0.82)', 2.3, 6),
    dots(bCore, 'rgba(22,22,22,0.85)', 2.9, 5),
    dots(bPurple, 'rgba(72,20,108,0.85)', 2.8, 4),
    dots(bMagenta, 'rgba(168,45,108,0.9)', 2.7, 3),
    dots(bOrange, 'rgba(240,122,28,0.95)', 2.6, 2),
    dots(bYellow, 'rgba(249,204,52,1)', 2.5, 1),
  ]},
  options: {
    ...base,
    layout: {padding: {left: 0, right: 1.7, top: 10.7, bottom: 0}},
    plugins: {legend: {display: false}, tooltip: {enabled: false}, frame: {color: '#bdbdbd'}},
    scales: {
      x: {type: 'logarithmic', min: 0.0074, max: 4.31, border: {display: false},
        afterBuildTicks: fixTicks(bXTicks), afterFit: fixSize(null, 60),
        grid: {color: c => c.index % 2 === 0 ? '#dedede' : '#ebebeb', lineWidth: c => c.index % 2 === 0 ? 1.3 : 0.9,
               tickColor: c => c.index % 2 === 0 ? '#bdbdbd' : 'rgba(0,0,0,0)', tickWidth: 1.3, tickLength: 6},
        ticks: {callback: (v, i) => bXLabels[i], font: {size: 17.5, lineHeight: 1}, padding: 2, maxRotation: 0, autoSkip: false},
        title: {display: true, text: 'wild−type Spt6 levels (ChIP−nexus RPKM)', align: 'end',
                font: {size: 23, lineHeight: 1}, padding: {top: 0, bottom: 8}}},
      y: {min: -3.49, max: 7.27, border: {display: false},
        afterBuildTicks: fixTicks(bYTicks), afterFit: fixSize(215.7, null),
        grid: {color: c => c.tick && c.tick.value === 0 ? '#aaaaaa' : (c.index % 2 === 0 ? '#dedede' : '#ebebeb'),
               lineWidth: c => c.tick && c.tick.value === 0 ? 2 : (c.index % 2 === 0 ? 1.3 : 0.9),
               tickColor: c => c.index % 2 === 0 ? '#bdbdbd' : 'rgba(0,0,0,0)', tickWidth: 1.3, tickLength: 8},
        ticks: {callback: (v, i) => bYLabels[i], font: {size: 17.5, lineHeight: 1}, padding: 2, autoSkip: false}}
    }
  },
  plugins: [frame, statsB]
});

// ---------- charts C ----------
function makeC(id, datasets, pad, showX) {
  return new Chart(document.getElementById(id), {
    type: 'line',
    data: {datasets},
    options: {
      ...base,
      layout: {padding: pad},
      plugins: {legend: {display: false}, tooltip: {enabled: false}, frame: {color: '#bdbdbd'}},
      scales: {
        x: {type: 'linear', min: -0.375, max: 4.378, z: 1, border: {display: false},
          afterBuildTicks: fixTicks(cXTicks), afterFit: fixSize(null, showX ? 23.3 : 0),
          grid: {color: c => (c.tick && (c.tick.value === 0 || c.tick.value === 4)) ? 'rgba(0,0,0,0.42)' : 'rgba(0,0,0,0.1)',
                 lineWidth: c => (c.tick && (c.tick.value === 0 || c.tick.value === 4)) ? 2.4 : 1,
                 drawTicks: showX, tickLength: 4, tickWidth: 1.3,
                 tickColor: c => (c.tick && c.tick.value % 2 === 0) ? '#9a9a9a' : 'rgba(0,0,0,0)'},
          ticks: {display: showX, callback: (v, i) => cXLabels[i], font: {size: 18, lineHeight: 1}, padding: 0,
                  maxRotation: 0, autoSkip: false}},
        y: {min: -0.0008, max: 0.054, border: {display: false},
          afterBuildTicks: fixTicks(cYTicks), afterFit: fixSize(64.1, null),
          grid: {color: 'rgba(0,0,0,0)', tickColor: '#bdbdbd', tickWidth: 1.3, tickLength: 9},
          ticks: {callback: (v, i) => cYLabels[i], font: {size: 17, lineHeight: 1}, padding: 2, autoSkip: false}}
      }
    },
    plugins: [frame]
  });
}

makeC('chartC1', [
  lineDs(pts(set2Line), cLine, 2.2),
  hiDs(band(set2X, set2Hi), cBand, 'origin'),
], {left: 0, right: 24.6, top: 13.7, bottom: 4.3}, false);

makeC('chartC2', [
  lineDs(pts(t30Line), cLine, 2.2),
  hiDs(band(t30X, t30Hi), cBand, 'origin'),
], {left: 0, right: 24.6, top: 4.7, bottom: 4.7}, false);

makeC('chartC3', [
  lineDs(pts(t37Line), cLine, 2.2),
  loDs(band(t37X, t37Lo)),
  hiDs(band(t37X, t37Hi), cBand, '-1'),
], {left: 0, right: 24.6, top: 4, bottom: 0}, true);
</script>
</body>
</html>
